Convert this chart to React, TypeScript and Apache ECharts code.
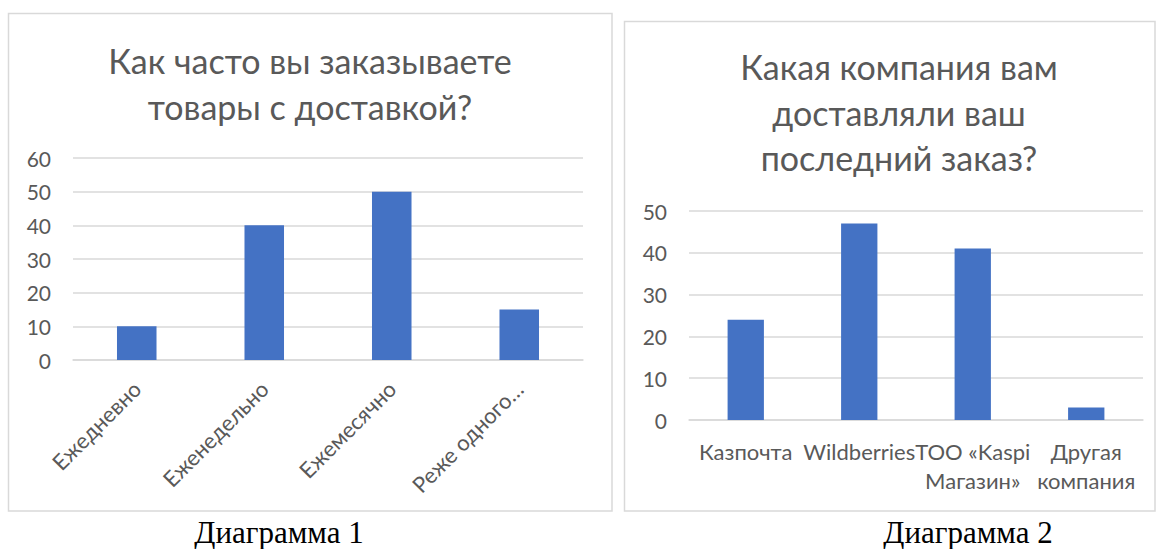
import React, { useEffect, useRef } from "react";
import * as echarts from "echarts";

const title1 = "Как часто вы заказываете\nтовары с доставкой?";
const categories1 = ["Ежедневно", "Еженедельно", "Ежемесячно", "Реже одного…"];
const values1 = [10, 40, 50, 15];
const yTicks1 = { min: 0, max: 60, interval: 10 };

const title2 = "Какая компания вам\nдоставляли ваш\nпоследний заказ?";
const categories2 = ["Казпочта", "Wildberries", "TOO «Kaspi\nМагазин»", "Другая\nкомпания"];
const values2 = [24, 47, 41, 3];
const yTicks2 = { min: 0, max: 50, interval: 10 };

const captions = ["Диаграмма 1", "Диаграмма 2"];

const FONT = "Lato";
const TEXT = "#595959";
const GRIDC = "#D9D9D9";
const BAR = "#4472C4";

export default function App() {
  const ref = useRef<HTMLDivElement>(null);
  useEffect(() => {
    if (!ref.current) return;
    const chart = echarts.init(ref.current, null, { renderer: "svg" });
    const titleStyle = { fontFamily: FONT, fontSize: 34, fontWeight: "normal" as const, color: TEXT };
    const yAxisCommon = {
      type: "value" as const,
      axisLine: { show: false },
      axisTick: { show: false },
      splitLine: { lineStyle: { color: GRIDC, width: 1.5 } },
      axisLabel: { color: TEXT, fontFamily: FONT, fontSize: 21, margin: 22 },
    };
    const xAxisCommon = {
      type: "category" as const,
      axisTick: { show: false },
      axisLine: { lineStyle: { color: GRIDC, width: 1.5 } },
    };
    chart.setOption({
      animation: false,
      title: [
        { text: title1, left: 310, top: 37, padding: 0, textAlign: "center", textStyle: { ...titleStyle, lineHeight: 46 } },
        { text: title2, left: 899, top: 44, padding: 0, textAlign: "center", textStyle: { ...titleStyle, lineHeight: 45.5 } },
      ],
      grid: [
        { left: 73, top: 158, width: 510, height: 202 },
        { left: 689, top: 211, width: 454, height: 209 },
      ],
      xAxis: [
        {
          ...xAxisCommon,
          gridIndex: 0,
          data: categories1,
          axisLabel: { color: TEXT, fontFamily: FONT, fontSize: 22, rotate: 45, interval: 0, margin: 25 },
        },
        {
          ...xAxisCommon,
          gridIndex: 1,
          data: categories2,
          axisLabel: { color: TEXT, fontFamily: FONT, fontSize: 22, interval: 0, margin: 17, lineHeight: 29 },
        },
      ],
      yAxis: [
        { ...yAxisCommon, gridIndex: 0, ...yTicks1 },
        { ...yAxisCommon, gridIndex: 1, ...yTicks2 },
      ],
      series: [
        { type: "bar", xAxisIndex: 0, yAxisIndex: 0, data: values1, barWidth: "31%", itemStyle: { color: BAR } },
        { type: "bar", xAxisIndex: 1, yAxisIndex: 1, data: values2, barWidth: "32%", itemStyle: { color: BAR } },
      ],
      graphic: [
        { type: "rect", shape: { x: 8.5, y: 13.5, width: 603.5, height: 497.5 }, style: { fill: "none", stroke: GRIDC, lineWidth: 1.5 }, z: -1 },
        { type: "rect", shape: { x: 624.5, y: 21.5, width: 530.5, height: 489.5 }, style: { fill: "none", stroke: GRIDC, lineWidth: 1.5 }, z: -1 },
        { type: "text", x: 279, y: 532, style: { text: captions[0], fill: "#000", fontFamily: "Liberation Serif", fontSize: 31, align: "center", verticalAlign: "middle" } },
        { type: "text", x: 968, y: 532, style: { text: captions[1], fill: "#000", fontFamily: "Liberation Serif", fontSize: 31, align: "center", verticalAlign: "middle" } },
      ],
    });
    return () => chart.dispose();
  }, []);
  return <div ref={ref} style={{ position: "absolute", left: 0, top: 0, width: 1161, height: 549, background: "#fff" }} />;
}
